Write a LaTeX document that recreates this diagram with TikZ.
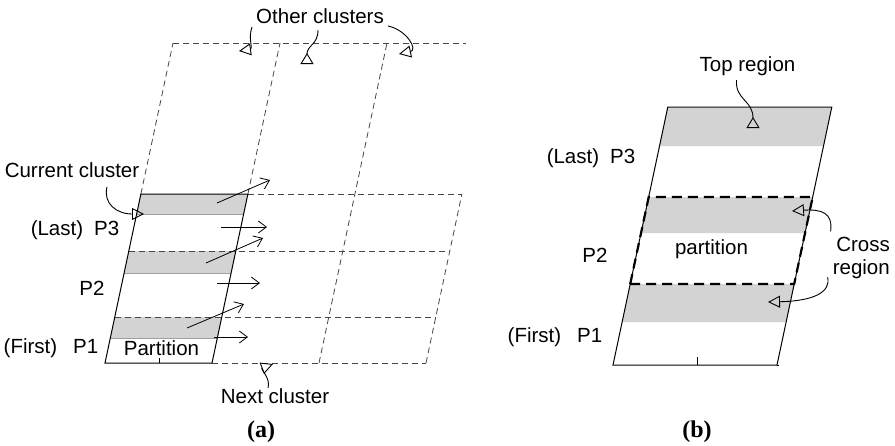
\documentclass[tikz,border=0pt]{standalone}
\usepackage{fontspec}
\setmainfont{Liberation Sans}
\newfontfamily\capfont{Liberation Serif}
\usetikzlibrary{arrows.meta}
\definecolor{regiongray}{RGB}{210,211,210}
\definecolor{gridc}{RGB}{70,70,70}
\tikzset{
  lbl/.style={inner sep=0pt, anchor=base, font=\fontsize{20.5}{23}\selectfont},
  caplbl/.style={inner sep=0pt, anchor=base, font=\capfont\bfseries\fontsize{24}{26}\selectfont},
  gridline/.style={draw=gridc, line width=0.8pt, dash pattern=on 6pt off 4pt},
  outline/.style={draw=black, line width=1pt},
  region/.style={fill=regiongray, draw=none},
  regionedge/.style={draw=gray!75, line width=0.8pt},
  flow/.style={draw=black, line width=0.8pt, -{Straight Barb[length=8pt,width=12pt]}},
  callout/.style={draw=black, line width=0.9pt, -{Triangle[open,length=12pt,width=12pt]}},
  calloutrev/.style={draw=black, line width=0.9pt, -{Triangle[open,reversed,length=11pt,width=13pt]}},
  partedge/.style={draw=black, line width=2.2pt, dash pattern=on 10pt off 6pt},
}
\begin{document}
\begin{tikzpicture}[x=1pt,y=-1pt]
\useasboundingbox (0,0) rectangle (895,445);
% ================= (a) =================
% gray regions in current cluster
\path[region] (140.9,194) -- (247.9,194) -- (243.7,214) -- (136.7,214) -- cycle;
\path[region] (128.8,251) -- (235.8,251) -- (231.1,273) -- (124.1,273) -- cycle;
\path[region] (114.8,317) -- (221.8,317) -- (217.3,338) -- (110.3,338) -- cycle;
\draw[regionedge] (136.7,214) -- (243.7,214);
\draw[regionedge] (124.1,273) -- (231.1,273);
\draw[regionedge] (110.3,338) -- (217.3,338);
% dashed grid
\draw[gridline] (173,43) -- (466,43);
\draw[gridline] (140.9,194) -- (173,43);
\draw[gridline] (247.9,194) -- (280,43);
\draw[gridline] (319,363) -- (387,43);
\draw[gridline] (426,363) -- (461.9,194);
\draw[gridline] (247.9,194) -- (461.9,194);
\draw[gridline] (128.8,251) -- (449.8,251);
\draw[gridline] (114.8,317) -- (435.8,317);
\draw[gridline] (212,363) -- (426,363);
% current cluster outline
\draw[outline] (105,363) -- (212,363) -- (247.9,194) -- (140.9,194) -- cycle;
\draw[black, line width=0.6pt] (159,358) -- (159,363);
% flow arrows
\coordinate (f1s) at (217,203); \coordinate (f1e) at (270,180);
\coordinate (f2s) at (221,227); \coordinate (f2e) at (267,227);
\coordinate (f3s) at (206,263); \coordinate (f3e) at (263,238);
\coordinate (f4s) at (217,283); \coordinate (f4e) at (260,283);
\coordinate (f5s) at (187,328); \coordinate (f5e) at (244,304);
\coordinate (f6s) at (214,337); \coordinate (f6e) at (248,337);
\draw[flow] (f1s) -- (f1e);
\draw[flow] (f2s) -- (f2e);
\draw[flow] (f3s) -- (f3e);
\draw[flow] (f4s) -- (f4e);
\draw[flow] (f5s) -- (f5e);
\draw[flow] (f6s) -- (f6e);
% labels (a)
\node[lbl] (oc) at (320,23) {Other clusters};
\node[lbl] (cc) at (72,177) {Current cluster};
\node[lbl] (last3a) at (75,235) {(Last)\hspace{11pt}P3};
\node[lbl] (p2a) at (92,295) {P2};
\node[lbl] (first1a) at (51,353) {(First)\hspace{16pt}P1};
\node[lbl] (parta) at (161.5,355) {Partition};
\node[lbl] (nc) at (275,403) {Next cluster};
\node[caplbl] (capa) at (261,437) {(a)};
% callouts (a)
\coordinate (oc1) at (239,51);
\coordinate (oc2) at (307,64);
\coordinate (oc3) at (399,54);
\coordinate (cct) at (144,214);
\coordinate (nct) at (273,364);
\draw[callout] ([xshift=-68pt,yshift=-4pt]oc.base) .. controls (248,38) and (253,49) .. (oc1);
\draw[calloutrev] ([xshift=-2pt,yshift=-7pt]oc.base) .. controls (318,45) and (307,45) .. (oc2);
\draw[callout] ([xshift=68pt,yshift=-3pt]oc.base) .. controls (407,30) and (418,50) .. (oc3);
\draw[callout] ([xshift=35pt,yshift=-10pt]cc.base) .. controls (103,203) and (116,214) .. (cct);
\draw[callout] ([xshift=-7pt,yshift=15pt]nc.base) .. controls (271,378) and (260,369) .. (nct);
% ================= (b) =================
\path[region] (667.6,108) -- (831.6,108) -- (823.5,146) -- (659.5,146) -- cycle;
\path[region] (648.7,197) -- (812.7,197) -- (805.1,233) -- (641.1,233) -- cycle;
\path[region] (630.2,284) -- (794.2,284) -- (786.1,322) -- (622.1,322) -- cycle;
\draw[outline] (613,365) -- (777,365) -- (831.8,107) -- (667.8,107) -- cycle;
\draw[black, line width=1pt] (777,365) -- (779,365);
\draw[black, line width=0.6pt] (697,357) -- (697,365);
\draw[partedge] (630.2,284) -- (648.7,197) -- (812.7,197) -- (794.2,284) -- cycle;
% labels (b)
\node[lbl] (tr) at (747.5,71) {Top region};
\node[lbl] (last3b) at (591,163) {(Last)\hspace{11pt}P3};
\node[lbl] (p2b) at (595,262) {P2};
\node[lbl] (first1b) at (555,342) {(First)\hspace{16pt}P1};
\node[lbl] (partb) at (711.5,254) {partition};
\node[inner sep=0pt, anchor=east, align=right, font=\fontsize{20.5}{23}\selectfont] (cr) at (890,258.3) {Cross\\region};
\node[caplbl] (capb) at (697,437) {(b)};
% callouts (b)
\coordinate (trt) at (753,128);
\coordinate (cr1) at (792,211);
\coordinate (cr2) at (768,302);
\draw[calloutrev] ([xshift=-11pt,yshift=-9pt]tr.base) .. controls (735,100) and (753,100) .. (trt);
\draw[callout] ([xshift=-2pt,yshift=6pt]cr.north west) .. controls (833,213) and (822,209) .. (cr1);
\draw[callout] ([xshift=-5pt,yshift=-19pt]cr.west) .. controls (831,292) and (814,301) .. (cr2);
\end{tikzpicture}
\end{document}
